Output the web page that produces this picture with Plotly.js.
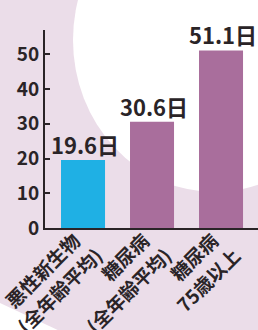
<!DOCTYPE html>
<html>
<head>
<meta charset="utf-8">
<script src="https://cdn.plot.ly/plotly-3.0.1.min.js"></script>
<style>html,body{margin:0;padding:0;background:#ebdde9;}#chart{width:258px;height:330px;}</style>
</head>
<body>
<div id="chart"></div>
<script>
// Data
const categoryLine1 = ["悪性新生物", "糖尿病", "糖尿病"];
const categoryLine2 = ["(全年齢平均)", "(全年齢平均)", "75歳以上"];
const values = [19.6, 30.6, 51.1];
const valueUnit = "日";
const barColors = ["#1fb0e4", "#a96e9c", "#a96e9c"];
const yTickVals = [0, 10, 20, 30, 40, 50];
const headerText = "75歳以上になるとさらに長い";

const W = 258, H = 330, L = 45, R = 0, T = 30, B = 102;
const pw = W - L - R, ph = H - T - B;
const px = x => (x - L) / pw;
const py = y => (H - B - y) / ph;

const xIdx = values.map((_, i) => i);
const dark = "#2a2427";
const font = "'Noto Sans CJK JP', 'Noto Sans', sans-serif";
const xRange = [-0.551, 2.536];
const unitPx = pw / (xRange[1] - xRange[0]);
const shifted = dpx => [xRange[0] - dpx / unitPx, xRange[1] - dpx / unitPx];

const trace = {
  type: "bar",
  x: xIdx,
  y: values,
  width: 0.638,
  marker: {color: barColors, line: {width: 0}},
  hoverinfo: "none"
};
const helper2 = {type: "scatter", x: [], y: [], xaxis: "x2", yaxis: "y", hoverinfo: "none", showlegend: false};
const helper3 = {type: "scatter", x: [], y: [], xaxis: "x3", yaxis: "y", hoverinfo: "none", showlegend: false};

const annotations = values.map((v, i) => ({
  x: i, y: v, xref: "x", yref: "y",
  text: v.toFixed(1) + valueUnit,
  showarrow: false, yanchor: "bottom", xanchor: "center",
  xshift: 2, yshift: -2,
  font: {family: font, size: 22, color: dark, weight: "bold"}
}));
annotations.push({
  x: px(17), y: py(5), xref: "paper", yref: "paper",
  text: headerText, showarrow: false, xanchor: "left", yanchor: "bottom",
  font: {family: font, size: 17, color: dark, weight: "bold"}
});

const tickFontX = {family: font, size: 19, color: dark, weight: "bold"};
const labelAxis = (range, text, standoff) => ({
  overlaying: "x", anchor: "y", side: "bottom",
  range: range, tickvals: xIdx, ticktext: text,
  tickangle: -45, ticklabeloverflow: "allow", ticklabelstandoff: standoff,
  showline: false, ticks: "", showgrid: false, zeroline: false,
  tickfont: tickFontX, fixedrange: true
});

const layout = {
  width: W, height: H,
  margin: {l: L, r: R, t: T, b: B, pad: 0},
  paper_bgcolor: "#ebdde9",
  plot_bgcolor: "rgba(0,0,0,0)",
  showlegend: false,
  xaxis: {
    range: xRange,
    tickvals: xIdx, showticklabels: false,
    showline: true, linewidth: 2, linecolor: dark,
    ticks: "", showgrid: false, zeroline: false,
    fixedrange: true
  },
  xaxis2: labelAxis(shifted(-8), categoryLine1, -3),
  xaxis3: labelAxis(shifted(14), categoryLine2, 12),
  yaxis: {
    range: [0, 57],
    tickvals: yTickVals,
    ticks: "inside", ticklen: 5, tickwidth: 2, tickcolor: dark,
    showline: true, linewidth: 2, linecolor: dark,
    showgrid: false, zeroline: false,
    ticklabeloverflow: "allow",
    tickfont: {family: font, size: 19, color: dark, weight: "bold"},
    fixedrange: true
  },
  shapes: [
    {type: "circle", xref: "paper", yref: "paper", layer: "below",
     x0: px(73), x1: px(357), y0: py(192), y1: py(-112),
     fillcolor: "#ffffff", line: {width: 0}},
    {type: "path", xref: "paper", yref: "paper", layer: "below",
     path: `M ${px(-2)} ${py(302)} L ${px(62)} ${py(332)} L ${px(-2)} ${py(332)} Z`,
     fillcolor: "#ffffff", line: {width: 0}}
  ],
  annotations: annotations
};

Plotly.newPlot("chart", [trace, helper2, helper3], layout, {staticPlot: true, displayModeBar: false});
</script>
</body>
</html>
